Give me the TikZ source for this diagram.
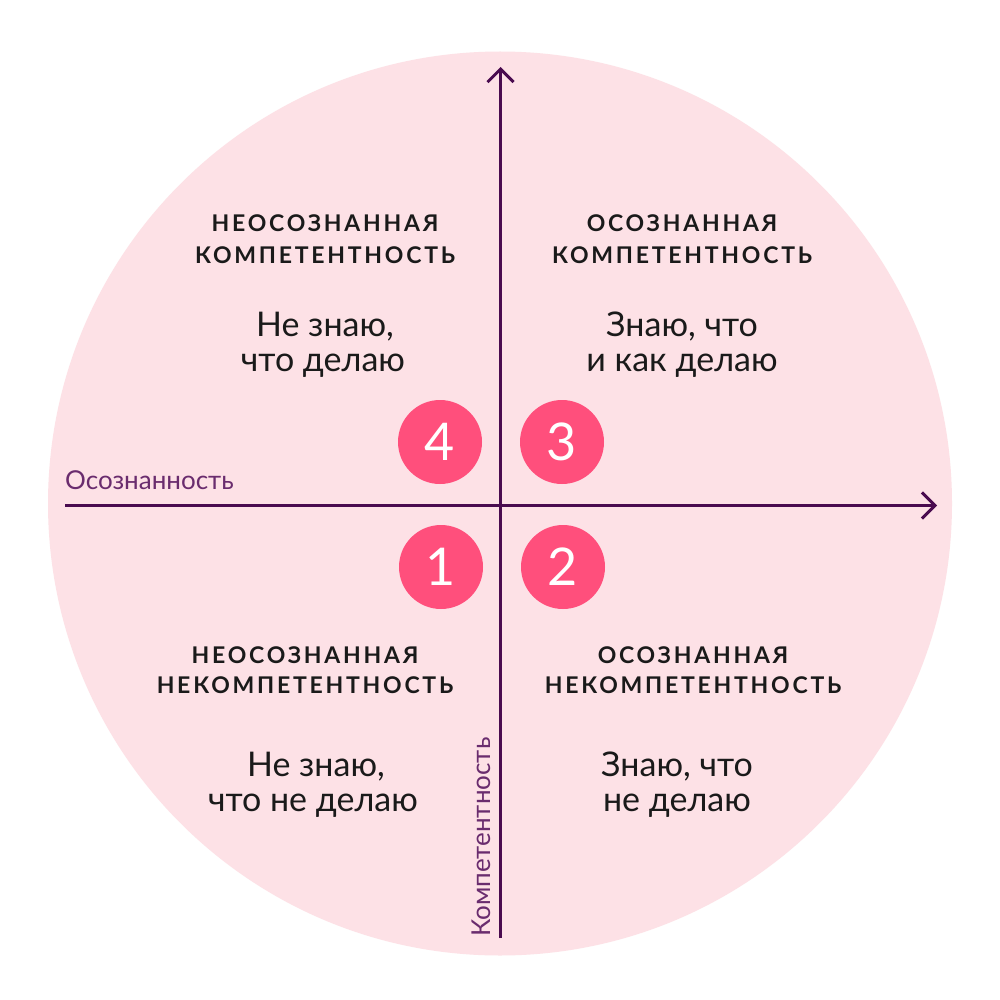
\documentclass[tikz,border=0pt]{standalone}
\usepackage{fontspec}
\setmainfont{Lato}
\usetikzlibrary{arrows.meta}
\definecolor{bgpink}{HTML}{FDE1E6}
\definecolor{badge}{HTML}{FF4F7C}
\definecolor{axis}{HTML}{4A0B4F}
\definecolor{axlabel}{HTML}{6A2C6E}
\definecolor{txt}{HTML}{1A1A1A}
\tikzset{
  ttl/.style={anchor=base, text=txt, inner sep=0pt, font=\fontsize{23}{28}\selectfont\bfseries\addfontfeatures{LetterSpace=12}},
  body/.style={anchor=base, text=txt, inner sep=0pt, font=\fontsize{34}{40}\selectfont},
  badgenode/.style={circle, fill=badge, minimum size=84pt, inner sep=0pt, text=white, font=\fontsize{52}{52}\selectfont},
  axisline/.style={draw=axis, line width=3pt, -{Straight Barb[length=13pt, width=26pt, line width=3pt]}},
  axlab/.style={inner sep=0pt, text=axlabel, font=\fontsize{26}{30}\selectfont}
}
\begin{document}
\begin{tikzpicture}[x=1pt, y=-1pt]
\useasboundingbox (0,0) rectangle (1000,1000);
\fill[white] (0,0) rectangle (1000,1000);
\fill[bgpink] (500,503.5) circle (452);
% axes
\coordinate (hs) at (65,505.5);
\coordinate (he) at (937,505.5);
\coordinate (vs) at (500.5,938);
\coordinate (ve) at (500.5,67);
\draw[axisline] (hs) -- (he);
\draw[axisline] (vs) -- (ve);
\node[axlab, anchor=base west] (lx) at (65,489) {Осознанность};
\node[axlab, anchor=base west, rotate=90] (ly) at (490,937) {Компетентность};
% badges
\node[badgenode] (b4) at (440,442) {4};
\node[badgenode] (b3) at (562,442) {3};
\node[badgenode] (b1) at (441,567) {1};
\node[badgenode] (b2) at (563,567) {2};
% upper left
\node[ttl] (ul1) at (325,232) {НЕОСОЗНАННАЯ};
\node[ttl] (ul2) at (325,263) {КОМПЕТЕНТНОСТЬ};
\node[body] (ul3) at (325,336) {Не знаю,};
\node[body] (ul4) at (323,371) {что делаю};
% upper right
\node[ttl] (ur1) at (682,232) {ОСОЗНАННАЯ};
\node[ttl] (ur2) at (682,263) {КОМПЕТЕНТНОСТЬ};
\node[body] (ur3) at (682,336) {Знаю, что};
\node[body] (ur4) at (682,371) {и как делаю};
% lower left
\node[ttl] (ll1) at (305,663) {НЕОСОЗНАННАЯ};
\node[ttl] (ll2) at (305,693) {НЕКОМПЕТЕНТНОСТЬ};
\node[body] (ll3) at (316,776) {Не знаю,};
\node[body] (ll4) at (313,811) {что не делаю};
% lower right
\node[ttl] (lr1) at (693,663) {ОСОЗНАННАЯ};
\node[ttl] (lr2) at (693,693) {НЕКОМПЕТЕНТНОСТЬ};
\node[body] (lr3) at (677,776) {Знаю, что};
\node[body] (lr4) at (677,811) {не делаю};
\end{tikzpicture}
\end{document}
